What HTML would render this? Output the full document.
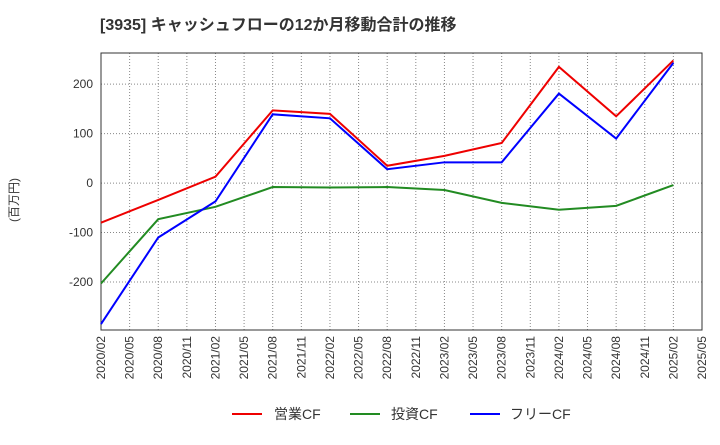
<!DOCTYPE html>
<html><head><meta charset="utf-8"><style>
body{margin:0;background:#fff;font-family:"Liberation Sans","Noto Sans CJK JP",sans-serif;}
svg text{font-family:"Liberation Sans","Noto Sans CJK JP",sans-serif;}
</style></head><body>
<svg id="chart" width="720" height="440" viewBox="0 0 720 440">
<text x="100" y="30" font-size="16" font-weight="bold" fill="#333">[3935]  キャッシュフローの12か月移動合計の推移</text>
<text transform="translate(18,200) rotate(-90)" text-anchor="middle" font-size="12" fill="#333">(百万円)</text>
<g id="grid"></g><g id="axes"></g><g id="series"></g>
<g>
<line x1="232" y1="414" x2="262" y2="414" stroke="#e00" stroke-width="2"/>
<text x="274" y="419" font-size="14" fill="#333">営業CF</text>
<line x1="350" y1="414" x2="380" y2="414" stroke="#228b22" stroke-width="2"/>
<text x="391" y="419" font-size="14" fill="#333">投資CF</text>
<line x1="470" y1="414" x2="500" y2="414" stroke="#00f" stroke-width="2"/>
<text x="510" y="419" font-size="14" fill="#333">フリーCF</text>
</g>
</svg>
<script>
const xLabels=["2020/02","2020/05","2020/08","2020/11","2021/02","2021/05","2021/08","2021/11","2022/02","2022/05","2022/08","2022/11","2023/02","2023/05","2023/08","2023/11","2024/02","2024/05","2024/08","2024/11","2025/02","2025/05"];
const pointIdx=[0,2,4,6,8,10,12,14,16,18,20];
const operatingCF=[-80,-34,13,147,140,35,55,81,235,135,248];
const investingCF=[-203,-73,-48,-8,-9,-8,-14,-40,-54,-46,-4];
const freeCF=[-285,-110,-37,139,131,28,42,42,181,90,243];
const yTicks=[-200,-100,0,100,200];
const L=101,R=702,T=53,B=330,yMax=263,yMin=-297;
const ns="http://www.w3.org/2000/svg";
const X=i=>L+(R-L)*i/(xLabels.length-1);
const Y=v=>T+(yMax-v)/(yMax-yMin)*(B-T);
function mk(t,a,p){const e=document.createElementNS(ns,t);for(const k in a)e.setAttribute(k,a[k]);p.appendChild(e);return e;}
const grid=document.getElementById('grid'),axes=document.getElementById('axes'),ser=document.getElementById('series');
xLabels.forEach((lab,i)=>{
 const l=mk('line',{x1:X(i),x2:X(i),y1:T,y2:B,stroke:'#888','stroke-dasharray':'1,2','stroke-width':1},grid);
 
 
 const t=mk('text',{transform:`translate(${X(i)+4},${B+6}) rotate(-90)`,'text-anchor':'end','font-size':12,fill:'#333'},axes);
 t.textContent=lab;
 
 
});
yTicks.forEach(v=>{
 const l=mk('line',{x1:L,x2:R,y1:Y(v),y2:Y(v),stroke:'#888','stroke-dasharray':'1,2','stroke-width':1},grid);
 
 
 const t=mk('text',{x:L-8,y:Y(v)+4,'text-anchor':'end','font-size':12,fill:'#333'},axes);
 t.textContent=v;
 
 
});
const frame=mk('rect',{x:L,y:T,width:R-L,height:B-T,fill:'none',stroke:'#333','stroke-width':1},axes);


[[operatingCF,'#e00','operating-cf-line'],[investingCF,'#228b22','investing-cf-line'],[freeCF,'#00f','free-cf-line']].forEach(([d,c,n])=>{
 const p=mk('polyline',{points:d.map((v,k)=>X(pointIdx[k])+','+Y(v)).join(' '),fill:'none',stroke:c,'stroke-width':2},ser);
 
 
});
</script>
</body></html>
